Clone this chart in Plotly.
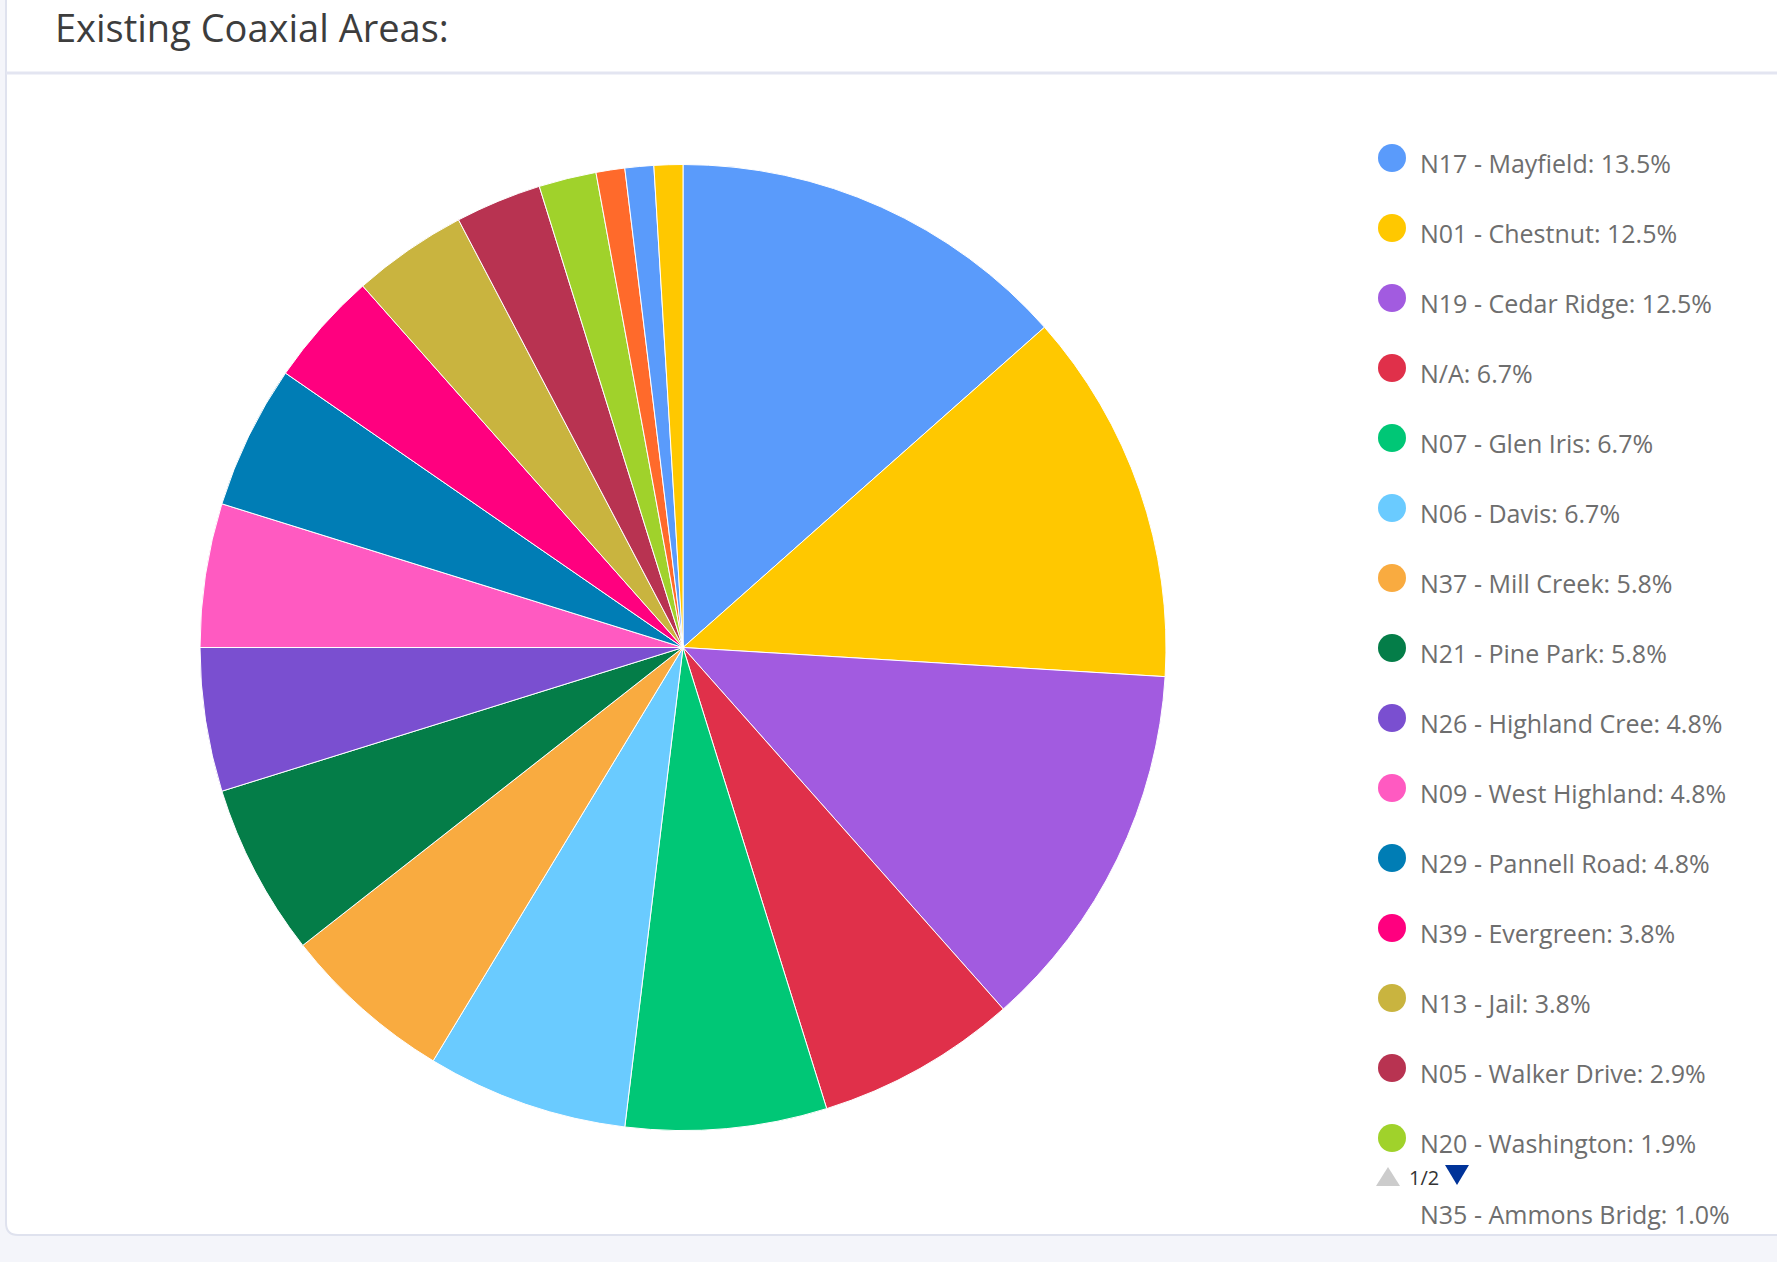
import plotly.graph_objects as go

W, H = 1777, 1262

# Coaxial service areas and their counts
areas = [
    "N17 - Mayfield", "N01 - Chestnut", "N19 - Cedar Ridge", "N/A",
    "N07 - Glen Iris", "N06 - Davis", "N37 - Mill Creek", "N21 - Pine Park",
    "N26 - Highland Cree", "N09 - West Highland", "N29 - Pannell Road",
    "N39 - Evergreen", "N13 - Jail", "N05 - Walker Drive", "N20 - Washington",
    "N35 - Ammons Bridg", "Area 17", "Area 18",
]
counts = [14, 13, 13, 7, 7, 7, 6, 6, 5, 5, 5, 4, 4, 3, 2, 1, 1, 1]

palette = [
    "#5A9BFB", "#FFC800", "#A25BE0", "#E0304A", "#00C776", "#6ACBFF",
    "#F9AB40", "#047D48", "#7A4FD0", "#FF5AC1", "#007DB5", "#FF007F",
    "#C9B43F", "#B83351", "#A0D22B", "#FF6A2B",
]
slice_colors = [palette[i % len(palette)] for i in range(len(areas))]

title_text = "Existing Coaxial Areas:"
legend_rows_on_page = 15
pager_text = "1/2"

total = sum(counts)
pcts = [c / total * 100 for c in counts]
legend_labels = [f"{a}: {p:.1f}%" for a, p in zip(areas, pcts)]


def px(x):
    return x / W


def py(y):
    return 1 - y / H


fig = go.Figure()

# pie placement (pixel centre and radius)
cx, cy, r = 683, 647.5, 483
fig.add_trace(go.Pie(
    labels=areas,
    values=counts,
    sort=False,
    direction="clockwise",
    rotation=0,
    textinfo="none",
    marker=dict(colors=slice_colors, line=dict(color="#ffffff", width=1)),
    domain=dict(x=[px(cx - r), px(cx + r)], y=[py(cy + r), py(cy - r)]),
    showlegend=False,
    hovertemplate="%{label}: %{percent:.1%}<extra></extra>",
))

shapes = []
annotations = []

# card background with rounded bottom-left corner
cl, cb, rad = 6, 1235, 12
card_path = (
    f"M {px(cl)},{py(-20)} L {px(cl)},{py(cb - rad)} "
    f"Q {px(cl)},{py(cb)} {px(cl + rad)},{py(cb)} "
    f"L {px(W + 20)},{py(cb)} L {px(W + 20)},{py(-20)} Z"
)
shapes.append(dict(type="path", xref="paper", yref="paper", path=card_path,
                   fillcolor="#ffffff", line=dict(color="#dfe2ee", width=2),
                   layer="below"))
# header divider
shapes.append(dict(type="line", xref="paper", yref="paper",
                   x0=px(cl), x1=1.0, y0=py(73), y1=py(73),
                   line=dict(color="#e3e5f1", width=3), layer="below"))

annotations.append(dict(text=title_text, xref="paper", yref="paper",
                        x=px(54), y=py(0), xanchor="left", yanchor="top",
                        borderpad=0, showarrow=False,
                        font=dict(family="Open Sans", size=38, color="#3d3d3d")))

# legend column
lx_marker, lx_text, ly0, lstep, mr = 1392, 1418, 158, 70, 14
legend_font = dict(family="Open Sans", size=25, color="#6e6e6e")
for i in range(legend_rows_on_page):
    yc = ly0 + i * lstep
    shapes.append(dict(type="circle", xref="paper", yref="paper",
                       x0=px(lx_marker - mr), x1=px(lx_marker + mr),
                       y0=py(yc + mr), y1=py(yc - mr),
                       fillcolor=slice_colors[i], line=dict(width=0)))
    annotations.append(dict(text=legend_labels[i], xref="paper", yref="paper",
                            x=px(lx_text), y=py(yc + 5), xanchor="left",
                            yanchor="middle", showarrow=False, font=legend_font))

# pager arrows and counter
up = (1388, 1177)
dn = (1457, 1174)
shapes.append(dict(type="path", xref="paper", yref="paper",
                   path=(f"M {px(up[0] - 12)},{py(up[1] + 9)} L {px(up[0] + 12)},{py(up[1] + 9)} "
                         f"L {px(up[0])},{py(up[1] - 10)} Z"),
                   fillcolor="#cccccc", line=dict(width=0)))
shapes.append(dict(type="path", xref="paper", yref="paper",
                   path=(f"M {px(dn[0] - 12)},{py(dn[1] - 9)} L {px(dn[0] + 12)},{py(dn[1] - 9)} "
                         f"L {px(dn[0])},{py(dn[1] + 11)} Z"),
                   fillcolor="#003399", line=dict(width=0)))
annotations.append(dict(text=pager_text, xref="paper", yref="paper",
                        x=px(1424), y=py(1177), xanchor="center", yanchor="middle",
                        showarrow=False,
                        font=dict(family="Open Sans", size=20, color="#333333")))

# first entry of the next legend page, partly visible below the pager
annotations.append(dict(text=legend_labels[legend_rows_on_page], xref="paper", yref="paper",
                        x=px(lx_text), y=py(1214), xanchor="left", yanchor="middle",
                        showarrow=False, font=legend_font))

fig.update_layout(
    width=W, height=H,
    margin=dict(l=0, r=0, t=0, b=0),
    paper_bgcolor="#f4f5fa",
    plot_bgcolor="rgba(0,0,0,0)",
    shapes=shapes,
    annotations=annotations,
)

fig.write_html("out.html")
